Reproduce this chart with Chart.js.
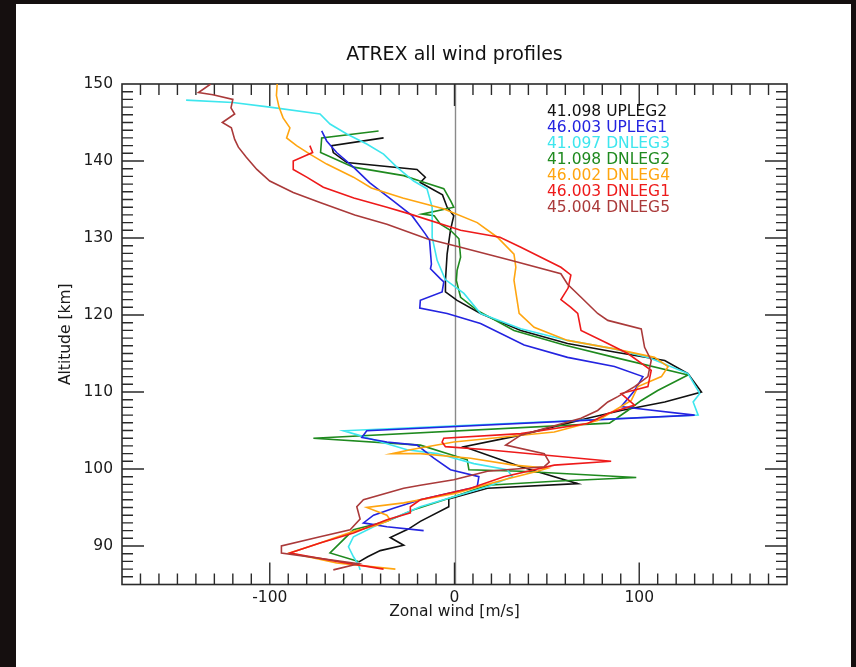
<!DOCTYPE html>
<html>
<head>
<meta charset="utf-8">
<script src="https://cdn.jsdelivr.net/npm/chart.js@4/dist/chart.umd.min.js"></script>
<style>
  html, body { margin: 0; padding: 0; background: #150f0f; }
  #panel { position: absolute; left: 16px; top: 4px; width: 835px; height: 663px; background: #ffffff; }
  #c { position: absolute; left: 0; top: 0; }
</style>
</head>
<body>
<div id="panel"></div>
<canvas id="c" width="856" height="667"></canvas>
<script>
// ---------- data (zonal wind [m/s] vs altitude [km]) ----------
const seriesNames = ['41.098 UPLEG2', '46.003 UPLEG1', '41.097 DNLEG3', '41.098 DNLEG2', '46.002 DNLEG4', '46.003 DNLEG1', '45.004 DNLEG5'];
const seriesColors = ['#111111', '#2424e0', '#3ee6ee', '#1f8a1f', '#ffa510', '#ee1a1a', '#aa3a3a'];

const windUPLEG2 = [-38.4, -66.5, -65.6, -58.3, -20.3, -15.8, -18.5, -6.5, -4, -0.4, -2.2, -4, -4.9, -4.9, 1.4, 14.1, 35.9, 61.2, 86.6, 113.8, 126.4, 133.7, 113.8, 90.2, 72.1, 54, 35.9, 5.1, 35.9, 66.7, 17.8, -3.1, -3.1, -18.5, -25, -34.8, -27.5, -40.2, -47, -52];
const altUPLEG2  = [143.0, 142.0, 141.1, 139.8, 138.9, 137.9, 137.2, 135.6, 134.0, 132.9, 131.0, 127.9, 124.5, 123.0, 121.9, 120.2, 118.0, 116.3, 115.2, 114.1, 112.4, 110.0, 108.7, 107.6, 106.6, 105.5, 104.4, 102.9, 100.3, 98.1, 97.5, 96.1, 95.1, 93.2, 92.2, 91.1, 90.1, 89.4, 88.6, 87.9];

const windUPLEG1 = [-71.9, -69.2, -63.8, -54.7, -46, -33, -23, -16, -13.5, -12.5, -13, -7.6, -5.8, -6.7, -18.5, -18.8, -4, 14.1, 37.7, 61.2, 86.6, 102, 97.5, 90.2, 97.5, 130, -47.5, -50.2, -36.6, -20.3, -11.2, -2.2, 13.2, 12.3, -18.5, -33, -43.8, -49.3, -36.6, -16.7];
const altUPLEG1  = [143.9, 142.6, 141.1, 139.2, 137.2, 134.8, 132.9, 130.6, 129.7, 126.6, 126.0, 124.7, 124.3, 123.0, 121.9, 120.9, 120.2, 118.9, 116.1, 114.5, 113.3, 112.0, 110.2, 108.1, 107.9, 107.0, 104.97, 104.1, 103.5, 103.1, 101.4, 99.9, 99.0, 97.7, 96.0, 94.9, 94.0, 93.0, 92.5, 92.0];

const windDNLEG3 = [-145.3, -120, -100, -72.8, -67.4, -58.3, -47.5, -38.4, -31.2, -22.1, -14.9, -12.1, -12.1, -9.4, -5, 5.1, 14.1, 35.9, 61.2, 86.6, 104.7, 126.4, 132.8, 129.2, 131.9, -60.1, -52, -43.8, -25.7, -9.4, 10.5, 28.6, 31.3, 17.8, -0.4, -18.5, -31.2, -43.8, -54.7, -57.4, -54.7, -52, -51.1];
const altDNLEG3  = [147.9, 147.6, 147.0, 146.1, 144.8, 143.5, 142.2, 140.9, 139.2, 137.4, 136.4, 134.0, 130.1, 127.1, 124.6, 122.8, 120.2, 118.2, 116.7, 115.6, 114.5, 112.4, 109.8, 108.7, 107.0, 104.97, 104.4, 103.8, 102.5, 102.0, 100.7, 99.9, 99.0, 97.7, 96.4, 95.1, 93.8, 92.5, 91.2, 89.9, 88.6, 87.6, 86.9];

const windDNLEG2 = [-41.1, -71.9, -72.5, -54.7, -27.5, -17.5, -5.8, -2, -0.4, -17.6, -11, -7.6, -2.2, 2.4, 3.3, 1.4, 1.0, 3.3, 12.3, 32.2, 59.4, 86.6, 126.4, 110, 101.1, 93.8, 83.9, -76.4, -18.5, 6.9, 7.8, 35.9, 98.4, 54, 17.8, -0.4, -22.1, -36.6, -54.7, -67.4, -52];
const altDNLEG2  = [143.9, 143.0, 141.1, 139.2, 138.1, 137.3, 136.4, 134.8, 134.0, 133.1, 132.9, 131.8, 131.0, 129.9, 127.5, 125.8, 124.5, 122.3, 120.6, 118.0, 116.1, 114.5, 112.2, 110.2, 108.9, 107.6, 105.96, 104.0, 103.1, 101.2, 99.9, 99.7, 98.9, 98.4, 97.9, 96.4, 94.7, 93.2, 92.1, 89.1, 88.0];

const windDNLEG4 = [-96, -96.4, -95, -92.8, -89.1, -90.9, -85.5, -78.3, -69.2, -54.7, -45, -28, -6, 12.3, 23.2, 32.2, 33.2, 32.2, 35, 43.1, 61.2, 86.6, 108.3, 115.6, 112, 99.3, 95.7, 86.6, 77.5, 54, -0.4, -23.9, -33.9, -18.5, 8.7, 32.2, 50.4, 44.9, 26.8, -0.4, -27.5, -47.5, -36.6, -34.8, -42, -54.7, -72.8, -89.1, -63.8, -32];
const altDNLEG4  = [150, 148.5, 147, 145.6, 144.3, 143.0, 142.0, 140.9, 139.6, 137.9, 136.5, 135.2, 133.8, 132.0, 130.1, 127.9, 126.2, 124.5, 120.2, 118.4, 116.7, 115.6, 114.5, 113.3, 112.0, 110.7, 108.9, 107.6, 106.3, 104.8, 103.5, 102.5, 102.0, 102.0, 101.4, 100.5, 100.1, 99.7, 98.6, 96.8, 95.6, 95.0, 94.0, 93.4, 92.7, 91.9, 90.4, 89.1, 87.8, 87.0];

const windDNLEG1 = [-78.3, -76.8, -87.3, -87.3, -80, -71, -54.5, -36.6, -23.9, 3.3, 24.6, 35.9, 57.6, 63, 61.5, 57.6, 63, 66.7, 68.5, 83, 93.8, 106.5, 104.7, 90.2, 97.5, 83, 72.1, 35.9, -5.8, -6.7, -4.9, 17.8, 84.8, 54, 26.8, 8.7, -18.5, -23.9, -23.9, -36.6, -54.7, -72.8, -89.1, -63.8, -38.4];
const altDNLEG1  = [142.0, 141.1, 140.0, 138.9, 137.9, 136.6, 135.2, 134.0, 133.1, 131.0, 130.1, 128.8, 126.2, 125.2, 123.5, 122.0, 121.0, 120.2, 118.0, 116.3, 115.0, 112.8, 110.7, 109.8, 108.3, 107.2, 105.9, 104.6, 104.0, 103.5, 102.9, 102.5, 101.0, 100.5, 99.0, 97.5, 96.0, 95.1, 94.3, 93.4, 91.7, 90.4, 89.1, 88.0, 87.0];

const windDNLEG5 = [-132, -138.6, -130.8, -120, -121, -119, -125.7, -120.8, -119, -117, -112.7, -107, -100, -87.3, -72.8, -54, -36.6, -14.9, 3.3, 30.4, 57.6, 61.2, 68.5, 77.5, 83, 101.1, 102.9, 106.5, 104.7, 97.5, 88.4, 83, 77.5, 68.5, 35.9, 27.7, 48.6, 51.3, 48.6, 17.8, -0.4, -18.5, -27.5, -49.3, -52.9, -51.1, -56.5, -72.8, -93.7, -93.7, -52, -65.6];
const altDNLEG5  = [150, 148.9, 148.6, 148.0, 146.9, 146.1, 145.0, 144.3, 142.8, 141.8, 140.5, 138.9, 137.4, 135.9, 134.6, 133.0, 131.8, 129.9, 128.8, 127.1, 125.35, 124.0, 122.3, 120.2, 119.3, 118.2, 115.8, 114.1, 112.0, 110.7, 109.4, 108.7, 107.6, 106.6, 104.4, 103.1, 102.0, 100.9, 100.3, 99.7, 98.6, 97.9, 97.5, 96.0, 95.1, 93.5, 92.1, 91.2, 90.0, 89.1, 87.7, 86.9];

const xTickValues = [-100, 0, 100];
const xTickLabels = ['-100', '0', '100'];
const yTickValues = [90, 100, 110, 120, 130, 140, 150];
const yTickLabels = ['90', '100', '110', '120', '130', '140', '150'];

const titleText = 'ATREX all wind profiles';
const xTitle = 'Zonal wind [m/s]';
const yTitle = 'Altitude [km]';

// ---------- build datasets ----------
const winds = [windUPLEG2, windUPLEG1, windDNLEG3, windDNLEG2, windDNLEG4, windDNLEG1, windDNLEG5];
const alts  = [altUPLEG2, altUPLEG1, altDNLEG3, altDNLEG2, altDNLEG4, altDNLEG1, altDNLEG5];
// draw order: keep black on top like reference
const drawOrder = [6, 5, 4, 1, 2, 3, 0];
const datasets = drawOrder.map(k => ({
  label: seriesNames[k],
  data: winds[k].map((w, i) => ({ x: w, y: alts[k][i] })),
  showLine: true,
  borderColor: seriesColors[k],
  backgroundColor: seriesColors[k],
  borderWidth: 1.6,
  pointRadius: 0,
  pointHoverRadius: 0,
  tension: 0,
  fill: false
}));

const FONT = 'DejaVu Sans';
const axisColor = '#2a2a2a';

const idlFrame = {
  id: 'idlFrame',
  beforeDatasetsDraw(chart) {
    const { ctx, chartArea: a, scales: { x, y } } = chart;
    ctx.save();
    // zero line
    ctx.strokeStyle = '#8a8a8a';
    ctx.lineWidth = 1.4;
    const x0 = Math.round(x.getPixelForValue(0)) + 0.5;
    ctx.beginPath(); ctx.moveTo(x0, a.top); ctx.lineTo(x0, a.bottom); ctx.stroke();
    // box
    ctx.strokeStyle = axisColor;
    ctx.lineWidth = 1.6;
    ctx.strokeRect(a.left, a.top, a.right - a.left, a.bottom - a.top);
    // ticks (inward, all four sides)
    ctx.lineWidth = 1.4;
    ctx.beginPath();
    for (let v = -170; v <= 170; v += 10) {
      const px = x.getPixelForValue(v);
      const len = (v % 100 === 0) ? 22 : 11;
      ctx.moveTo(px, a.bottom); ctx.lineTo(px, a.bottom - len);
      ctx.moveTo(px, a.top); ctx.lineTo(px, a.top + len);
    }
    for (let v = 86; v <= 149; v += 1) {
      const py = y.getPixelForValue(v);
      const len = (v % 10 === 0) ? 22 : 11;
      ctx.moveTo(a.left, py); ctx.lineTo(a.left + len, py);
      ctx.moveTo(a.right, py); ctx.lineTo(a.right - len, py);
    }
    ctx.stroke();
    ctx.restore();
  },
  afterDraw(chart) {
    const { ctx, chartArea: a } = chart;
    ctx.save();
    // title
    ctx.fillStyle = '#111';
    ctx.font = '19px "' + FONT + '"';
    ctx.textAlign = 'center';
    ctx.textBaseline = 'middle';
    ctx.fillText(titleText, (a.left + a.right) / 2, 55);
    // legend text
    ctx.font = '15.5px "' + FONT + '"';
    ctx.textAlign = 'left';
    seriesNames.forEach((n, i) => {
      ctx.fillStyle = seriesColors[i];
      ctx.fillText(n, 547, 112 + i * 16);
    });
    ctx.restore();
  }
};

new Chart(document.getElementById('c'), {
  type: 'scatter',
  data: { datasets },
  options: {
    responsive: false,
    animation: false,
    events: [],
    layout: { padding: { left: 0, right: 69, top: 84, bottom: 0 } },
    plugins: { legend: { display: false }, tooltip: { enabled: false }, title: { display: false } },
    scales: {
      x: {
        type: 'linear', min: -180, max: 180,
        afterBuildTicks: s => { s.ticks = xTickValues.map(v => ({ value: v })); },
        afterFit: s => { s.height = 82.5; },
        grid: { display: false, drawTicks: false },
        border: { display: false },
        ticks: { padding: 4, color: '#1a1a1a', font: { family: FONT, size: 15.5 }, maxRotation: 0,
                 callback: (v) => xTickLabels[xTickValues.indexOf(v)] },
        title: { display: true, text: xTitle, color: '#1a1a1a', font: { family: FONT, size: 15.5 }, padding: { top: 0, bottom: 46 } }
      },
      y: {
        type: 'linear', min: 85, max: 150,
        afterBuildTicks: s => { s.ticks = yTickValues.map(v => ({ value: v })); },
        afterFit: s => { s.width = 122; },
        grid: { display: false, drawTicks: false },
        border: { display: false },
        ticks: { padding: 9, color: '#1a1a1a', font: { family: FONT, size: 15.5 },
                 callback: (v) => yTickLabels[yTickValues.indexOf(v)] },
        title: { display: true, text: yTitle, color: '#1a1a1a', font: { family: FONT, size: 15.5 }, padding: { top: 57, bottom: 0 } }
      }
    }
  },
  plugins: [idlFrame]
});
</script>
</body>
</html>
